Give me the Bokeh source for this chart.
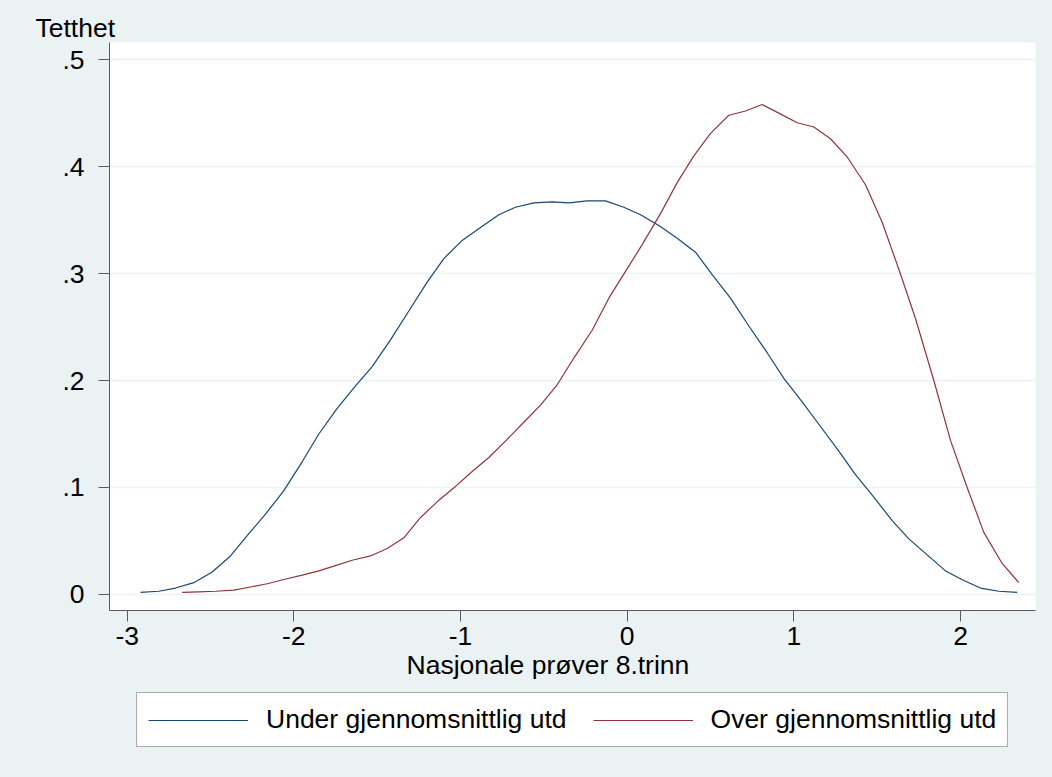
from bokeh.plotting import figure
from bokeh.layouts import column
from bokeh.models import Range1d, Legend, LegendItem, Title
from bokeh.embed import file_html
from bokeh.resources import INLINE

# ---- data ----
under_x = [-2.92, -2.81, -2.71, -2.60, -2.49, -2.38, -2.28, -2.17, -2.06, -1.95,
           -1.85, -1.74, -1.63, -1.53, -1.42, -1.31, -1.20, -1.10, -0.99, -0.88,
           -0.77, -0.67, -0.56, -0.45, -0.35, -0.24, -0.13, -0.02, 0.08, 0.19,
           0.30, 0.41, 0.51, 0.62, 0.73, 0.84, 0.94, 1.05, 1.16, 1.27,
           1.37, 1.48, 1.59, 1.69, 1.80, 1.91, 2.02, 2.12, 2.23, 2.34]
under_y = [0.002, 0.003, 0.006, 0.011, 0.021, 0.036, 0.055, 0.075, 0.097, 0.124,
           0.150, 0.174, 0.195, 0.213, 0.238, 0.265, 0.292, 0.314, 0.331, 0.343,
           0.355, 0.362, 0.366, 0.367, 0.366, 0.368, 0.368, 0.362, 0.355, 0.345,
           0.333, 0.320, 0.299, 0.277, 0.251, 0.226, 0.202, 0.180, 0.157, 0.134,
           0.112, 0.091, 0.069, 0.052, 0.037, 0.022, 0.013, 0.006, 0.003, 0.002]

over_x = [-2.67, -2.57, -2.47, -2.36, -2.26, -2.16, -2.06, -1.95, -1.85, -1.75,
          -1.65, -1.54, -1.44, -1.34, -1.24, -1.13, -1.03, -0.93, -0.83, -0.72,
          -0.62, -0.52, -0.42, -0.32, -0.21, -0.11, -0.01, 0.09, 0.20, 0.30,
          0.40, 0.50, 0.61, 0.71, 0.81, 0.91, 1.02, 1.12, 1.22, 1.32,
          1.43, 1.53, 1.63, 1.73, 1.84, 1.94, 2.04, 2.14, 2.25, 2.35]
over_y = [0.002, 0.0025, 0.003, 0.004, 0.007, 0.010, 0.014, 0.018, 0.022, 0.027,
          0.032, 0.036, 0.043, 0.053, 0.072, 0.088, 0.101, 0.115, 0.128, 0.145,
          0.161, 0.177, 0.196, 0.221, 0.247, 0.277, 0.302, 0.327, 0.356, 0.385,
          0.410, 0.431, 0.448, 0.452, 0.458, 0.450, 0.441, 0.437, 0.426, 0.409,
          0.383, 0.348, 0.304, 0.258, 0.200, 0.144, 0.100, 0.058, 0.029, 0.011]

series_labels = ["Under gjennomsnittlig utd", "Over gjennomsnittlig utd"]
x_ticks = [-3, -2, -1, 0, 1, 2]
x_tick_labels = ["-3", "-2", "-1", "0", "1", "2"]
y_ticks = [0, 0.1, 0.2, 0.3, 0.4, 0.5]
y_tick_labels = ["0", ".1", ".2", ".3", ".4", ".5"]
y_title = "Tetthet"
x_title = "Nasjonale prøver 8.trinn"

# ---- style ----
FONT = "Liberation Sans"
FS = "26.5px"
BG = "#EAF2F3"
BLUE = "#1a476f"
RED = "#90353b"
AXIS = "#5a5a5a"

MAIN_H = 692
TOTAL_H = 777
W = 1052

p = figure(width=W, height=MAIN_H, output_backend="svg", toolbar_location=None,
           title=None,
           x_range=Range1d(-3.106, 2.450), y_range=Range1d(-0.015, 0.516),
           min_border_left=109, min_border_right=17,
           min_border_top=42, min_border_bottom=82)
p.background_fill_color = "white"
p.border_fill_color = BG
p.outline_line_color = None

r1 = p.line(under_x, under_y, line_color=BLUE, line_width=1.2)
r2 = p.line(over_x, over_y, line_color=RED, line_width=1.2)

# x axis
xa = p.xaxis[0]
xa.ticker = x_ticks
xa.major_label_overrides = {t: l for t, l in zip(x_ticks, x_tick_labels)}
xa.major_tick_out = 11
xa.major_tick_in = 0
xa.minor_tick_out = 0
xa.minor_tick_in = 0
xa.axis_line_color = AXIS
xa.major_tick_line_color = AXIS
xa.major_label_text_font = FONT
xa.major_label_text_font_size = FS
xa.major_label_text_color = "black"
xa.major_label_standoff = 5

# y axis
ya = p.yaxis[0]
ya.ticker = y_ticks
ya.major_label_overrides = {t: l for t, l in zip(y_ticks, y_tick_labels)}
ya.major_label_orientation = "horizontal"
ya.major_tick_out = 11
ya.major_tick_in = 0
ya.minor_tick_out = 0
ya.minor_tick_in = 0
ya.axis_line_color = AXIS
ya.major_tick_line_color = AXIS
ya.major_label_text_font = FONT
ya.major_label_text_font_size = FS
ya.major_label_text_color = "black"
ya.major_label_standoff = 14

p.xgrid.visible = False
p.ygrid.ticker = y_ticks
p.ygrid.grid_line_color = BG
p.ygrid.grid_line_width = 1.5

# y title above the plot (Stata style), x title below the axis
p.add_layout(Title(text=y_title, align="left", offset=-74, standoff=0,
                   text_font=FONT, text_font_size=FS, text_font_style="normal",
                   text_color="black"), "above")
p.add_layout(Title(text=x_title, align="left", offset=297, standoff=0,
                   text_font=FONT, text_font_size=FS, text_font_style="normal",
                   text_color="black"), "below")

# legend strip below the chart (its frame is aligned with the main frame)
q = figure(width=W, height=TOTAL_H - MAIN_H, output_backend="svg", toolbar_location=None,
           title=None, x_range=Range1d(0, 1), y_range=Range1d(0, 1),
           x_axis_type=None, y_axis_type=None,
           min_border_left=109, min_border_right=17, min_border_top=0, min_border_bottom=0)
q.background_fill_color = BG
q.border_fill_color = BG
q.outline_line_color = None
q.grid.visible = False
nan = float("nan")
k1 = q.line([nan], [nan], line_color=BLUE, line_width=1.2)
k2 = q.line([nan], [nan], line_color=RED, line_width=1.2)

legend = Legend(items=[LegendItem(label=series_labels[0], renderers=[k1]),
                       LegendItem(label=series_labels[1], renderers=[k2])],
                orientation="horizontal", location=(27, 30),
                glyph_width=100, glyph_height=20, label_standoff=18, spacing=26,
                padding=11, margin=0,
                border_line_color=AXIS, border_line_width=1,
                background_fill_color="white", background_fill_alpha=1,
                label_text_font=FONT, label_text_font_size=FS, label_text_color="black")
q.add_layout(legend)

layout = column(p, q, spacing=0, styles={"background-color": BG})
open("out.html", "w").write(file_html(layout, INLINE))
